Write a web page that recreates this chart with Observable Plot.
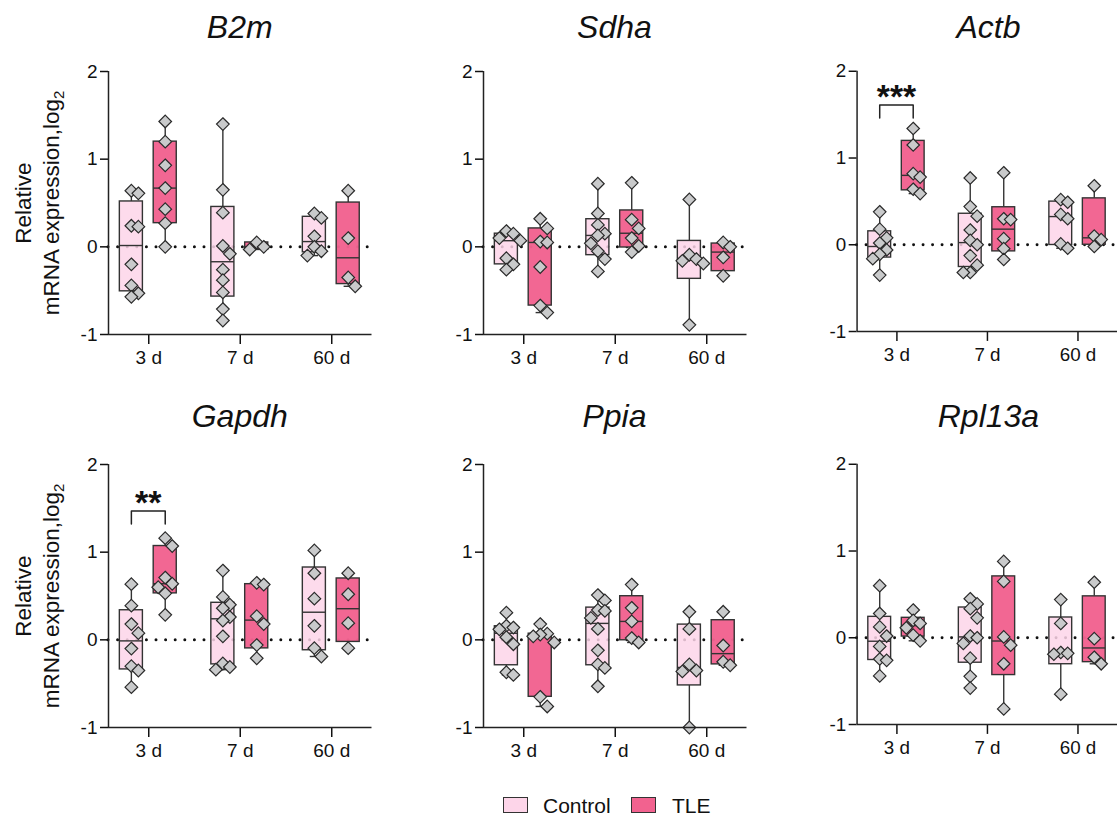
<!DOCTYPE html>
<html>
<head>
<meta charset="utf-8">
<script src="https://cdn.jsdelivr.net/npm/d3@7"></script>
<script src="https://cdn.jsdelivr.net/npm/@observablehq/plot@0.6"></script>
<style>
  html, body { margin: 0; padding: 0; background: #fff; overflow: hidden; }
  #root { position: relative; width: 1117px; height: 816px; overflow: hidden;
          font-family: "Liberation Sans", Arial, sans-serif; color: #111; }
  .panel { position: absolute; }
  .panel svg { font-family: "Liberation Sans", Arial, sans-serif !important;
               color: #111 !important; overflow: visible !important; }
  .panel svg text { font-size: 19px !important; font-family: "Liberation Sans", Arial, sans-serif !important; }
  .panel svg g[aria-label="text"] text { font-size: 34px !important; font-weight: bold !important; }
  .title { position: absolute; width: 264px; text-align: center; font-style: italic;
           font-size: 32px; line-height: 32px; white-space: nowrap; }
  .ylab { position: absolute; width: 300px; height: 56px; text-align: center;
          font-size: 22.5px; line-height: 28px; transform: rotate(-90deg); white-space: nowrap; }
  .ylab .sub { font-size: 15px; position: relative; top: 5px; }
  .sw { position: absolute; width: 23px; height: 14px; border: 1.4px solid #333; }
  .lt { position: absolute; font-size: 21px; line-height: 21px; white-space: nowrap; }
  g[aria-label$="axis tick"] { stroke-width: 1.5px; }
  .tick line { stroke-width: 1.5px; }
</style>
</head>
<body>
<div id="root"></div>
<script>
// ---------- data ----------
const genes = ["B2m", "Sdha", "Actb", "Gapdh", "Ppia", "Rpl13a"];
const times = ["3 d", "7 d", "60 d"];
const groups = ["Control", "TLE"];
const groupColors = ["#fdd5e9", "#f2628f"];

// order of sub-arrays: Control 3 d, TLE 3 d, Control 7 d, TLE 7 d, Control 60 d, TLE 60 d
const b2m = [
  [0.64, 0.61, 0.24, 0.23, -0.20, -0.44, -0.53, -0.57],
  [1.43, 1.20, 0.93, 0.67, 0.43, 0.27, 0.00],
  [1.40, 0.65, 0.39, 0.01, -0.08, -0.26, -0.38, -0.52, -0.71, -0.84],
  [0.05, 0.00, -0.03],
  [0.38, 0.33, 0.12, 0.00, -0.05, -0.10],
  [0.64, 0.10, -0.35, -0.45]
];
const sdha = [
  [0.18, 0.15, 0.10, 0.07, -0.13, -0.20, -0.26],
  [0.32, 0.21, 0.06, 0.05, -0.23, -0.67, -0.75],
  [0.72, 0.38, 0.25, 0.15, 0.13, 0.04, -0.05, -0.14, -0.28],
  [0.73, 0.31, 0.21, 0.10, 0.01, -0.06],
  [0.54, -0.09, -0.14, -0.16, -0.19, -0.89],
  [0.05, 0.00, -0.12, -0.33]
];
const actb = [
  [0.38, 0.18, 0.08, 0.02, -0.06, -0.11, -0.16, -0.35],
  [1.34, 1.15, 0.82, 0.78, 0.64, 0.59],
  [0.77, 0.44, 0.33, 0.17, 0.05, 0.00, -0.125, -0.235, -0.32, -0.32],
  [0.83, 0.30, 0.29, 0.07, -0.045, -0.17],
  [0.52, 0.49, 0.35, 0.30, 0.01, -0.04],
  [0.68, 0.10, 0.06, -0.02]
];
const gapdh = [
  [0.635, 0.39, 0.18, 0.076, -0.10, -0.30, -0.35, -0.54],
  [1.16, 1.07, 0.71, 0.64, 0.60, 0.53, 0.285],
  [0.79, 0.49, 0.40, 0.36, 0.26, 0.22, 0.04, -0.27, -0.31, -0.34],
  [0.65, 0.63, 0.27, 0.18, -0.06, -0.21],
  [1.02, 0.76, 0.47, 0.16, -0.095, -0.19],
  [0.76, 0.52, 0.19, -0.095]
];
const ppia = [
  [0.31, 0.16, 0.14, 0.12, 0.03, -0.05, -0.37, -0.40],
  [0.18, 0.07, 0.06, 0.04, -0.03, -0.65, -0.76],
  [0.51, 0.45, 0.34, 0.33, 0.25, 0.125, -0.12, -0.28, -0.32, -0.53],
  [0.63, 0.365, 0.21, 0.02, -0.03],
  [0.32, 0.125, -0.28, -0.35, -0.36, -1.00],
  [0.32, -0.065, -0.25, -0.29]
];
const rpl13a = [
  [0.60, 0.28, 0.125, 0.02, -0.10, -0.245, -0.26, -0.44],
  [0.32, 0.20, 0.165, 0.115, 0.03, -0.035],
  [0.45, 0.39, 0.335, 0.23, 0.02, 0.00, -0.065, -0.235, -0.445, -0.58],
  [0.88, 0.65, 0.01, -0.085, -0.30, -0.82],
  [0.44, 0.165, -0.17, -0.18, -0.19, -0.65],
  [0.64, -0.01, -0.225, -0.30]
];
const geneValues = [b2m, sdha, actb, gapdh, ppia, rpl13a];

// significance annotations
const sigGenes = ["Actb", "Gapdh"];
const sigTimes = ["3 d", "3 d"];
const sigLabels = ["***", "**"];
const sigHeights = [1.61, 1.47];

const yTicks = [-1, 0, 1, 2];

// ---------- layout ----------
const groupOffset = [-0.19, 0.18];
const boxHalf = 0.126;
const capHalf = 0.045;
const xDomain = [-0.44, 2.44];
const plotW = 263.5, plotH = 263;
const mL = 40, mT = 21, mB = 38;
const PXX = plotW / (xDomain[1] - xDomain[0]);
const PXY = plotH / 3;
const colAxisX = [108, 482.7, 856.7];
const rowY2 = [71, 464.3];
const titleBase = [37.7, 426.7];

// Prism-style quantile ((n+1)p)
function q6(s, p) {
  const n = s.length, h = (n + 1) * p;
  if (h <= 1) return s[0];
  if (h >= n) return s[n - 1];
  const lo = Math.floor(h);
  return s[lo - 1] + (h - lo) * (s[lo] - s[lo - 1]);
}
// simple scatter so diamonds do not sit on top of each other
function dodge(arr) {
  const order = arr.map((v, i) => i).sort((a, b) => arr[b] - arr[a]);
  const placed = [], offs = new Array(arr.length).fill(0);
  const cands = [0, 7, -7, 14, -14, 21, -21];
  for (const i of order) {
    const y = arr[i] * PXY;
    for (const o of cands) {
      if (placed.every(p => Math.abs(p.y - y) >= 10 || Math.abs(p.o - o) >= 7)) {
        offs[i] = o; placed.push({y, o}); break;
      }
    }
  }
  return offs;
}

const root = document.getElementById("root");

genes.forEach((gene, gi) => {
  const col = gi % 3, row = Math.floor(gi / 3);
  const vals = geneValues[gi];
  const boxes = [], pts = [];
  vals.forEach((arr, k) => {
    const t = Math.floor(k / 2), g = k % 2;
    const c = t + groupOffset[g];
    const s = arr.slice().sort((a, b) => a - b);
    boxes.push({g, c, min: s[0], max: s[s.length - 1], q1: q6(s, 0.25), med: q6(s, 0.5), q3: q6(s, 0.75)});
    const offs = dodge(arr);
    arr.forEach((v, j) => pts.push({x: c + offs[j] / PXX, y: v}));
  });

  const sig = [];
  sigGenes.forEach((sg, si) => {
    if (sg !== gene) return;
    const t = times.indexOf(sigTimes[si]);
    sig.push({t, label: sigLabels[si], h: sigHeights[si]});
  });
  const bracketLines = sig.map(s => [
    {x: s.t + groupOffset[0], y: s.h - 0.15},
    {x: s.t + groupOffset[0], y: s.h},
    {x: s.t + groupOffset[1], y: s.h},
    {x: s.t + groupOffset[1], y: s.h - 0.15}
  ]);

  const stroke = "#333";
  const marks = [
    Plot.ruleY([0], {stroke: "#111", strokeWidth: 3, strokeDasharray: "0,9.6", strokeLinecap: "round"}),
    Plot.ruleX(boxes, {x: "c", y1: "q3", y2: "max", stroke, strokeWidth: 1.4}),
    Plot.ruleX(boxes, {x: "c", y1: "min", y2: "q1", stroke, strokeWidth: 1.4}),
    Plot.ruleY(boxes, {y: "max", x1: d => d.c - capHalf, x2: d => d.c + capHalf, stroke, strokeWidth: 1.4}),
    Plot.ruleY(boxes, {y: "min", x1: d => d.c - capHalf, x2: d => d.c + capHalf, stroke, strokeWidth: 1.4}),
    Plot.rect(boxes.filter(d => d.g === 0), {x1: d => d.c - boxHalf, x2: d => d.c + boxHalf, y1: "q1", y2: "q3",
      fill: groupColors[0], fillOpacity: 0.85, stroke, strokeWidth: 1.4}),
    Plot.rect(boxes.filter(d => d.g === 1), {x1: d => d.c - boxHalf, x2: d => d.c + boxHalf, y1: "q1", y2: "q3",
      fill: groupColors[1], fillOpacity: 0.97, stroke, strokeWidth: 1.4}),
    Plot.ruleY(boxes, {y: "med", x1: d => d.c - boxHalf, x2: d => d.c + boxHalf, stroke, strokeWidth: 1.4}),
    Plot.dot(pts, {x: "x", y: "y", symbol: "diamond2", r: 5.7, fill: "#c9cacb", stroke: "#2a2a2a", strokeWidth: 1.2}),
    Plot.ruleX([xDomain[0]], {y1: -1, y2: 2, stroke: "#222", strokeWidth: 1.5}),
    Plot.ruleY([-1], {stroke: "#222", strokeWidth: 1.5})
  ];
  bracketLines.forEach(b => marks.push(Plot.line(b, {x: "x", y: "y", stroke: "#222", strokeWidth: 1.5})));
  if (sig.length) {
    marks.push(Plot.text(sig, {x: d => d.t + (groupOffset[0] + groupOffset[1]) / 2, y: d => d.h + 0.095,
      text: "label", fontSize: 34, fontWeight: "bold", fill: "#111", lineAnchor: "middle", textAnchor: "middle"}));
  }

  const chart = Plot.plot({
    width: mL + plotW, height: mT + plotH + mB,
    marginLeft: mL, marginRight: 0, marginTop: mT, marginBottom: mB,
    x: {domain: xDomain, ticks: [0, 1, 2], tickFormat: i => times[i], tickSize: 10, tickPadding: 6, label: null},
    y: {domain: [-1, 2], ticks: yTicks, tickFormat: d => String(d), tickSize: 8, tickPadding: 3, label: null},
    style: {fontFamily: '"Liberation Sans", Arial, sans-serif', fontSize: "19px", color: "#111",
            background: "transparent", overflow: "visible"},
    marks
  });
  const wrap = document.createElement("div");
  wrap.className = "panel";
  wrap.style.left = (colAxisX[col] - mL) + "px";
  wrap.style.top = (rowY2[row] - mT) + "px";
  wrap.appendChild(chart);
  root.appendChild(wrap);

  const title = document.createElement("div");
  title.className = "title";
  title.textContent = gene;
  title.style.left = (colAxisX[col] + plotW / 2 - 132) + "px";
  title.style.top = (titleBase[row] - 27) + "px";
  root.appendChild(title);

  if (col === 0) {
    const yl = document.createElement("div");
    yl.className = "ylab";
    yl.innerHTML = 'Relative<br>mRNA expression,log<span class="sub">2</span>';
    const cy = rowY2[row] + plotH / 2;
    yl.style.left = (38.4 - 150) + "px";
    yl.style.top = (cy - 28) + "px";
    root.appendChild(yl);
  }
});

// legend
const legendX = [[503, 543], [631, 672]];
groups.forEach((g, i) => {
  const sw = document.createElement("div");
  sw.className = "sw";
  sw.style.left = legendX[i][0] + "px";
  sw.style.top = "797px";
  sw.style.background = groupColors[i];
  root.appendChild(sw);
  const lt = document.createElement("div");
  lt.className = "lt";
  lt.textContent = g;
  lt.style.left = legendX[i][1] + "px";
  lt.style.top = "795px";
  root.appendChild(lt);
});
</script>
</body>
</html>
